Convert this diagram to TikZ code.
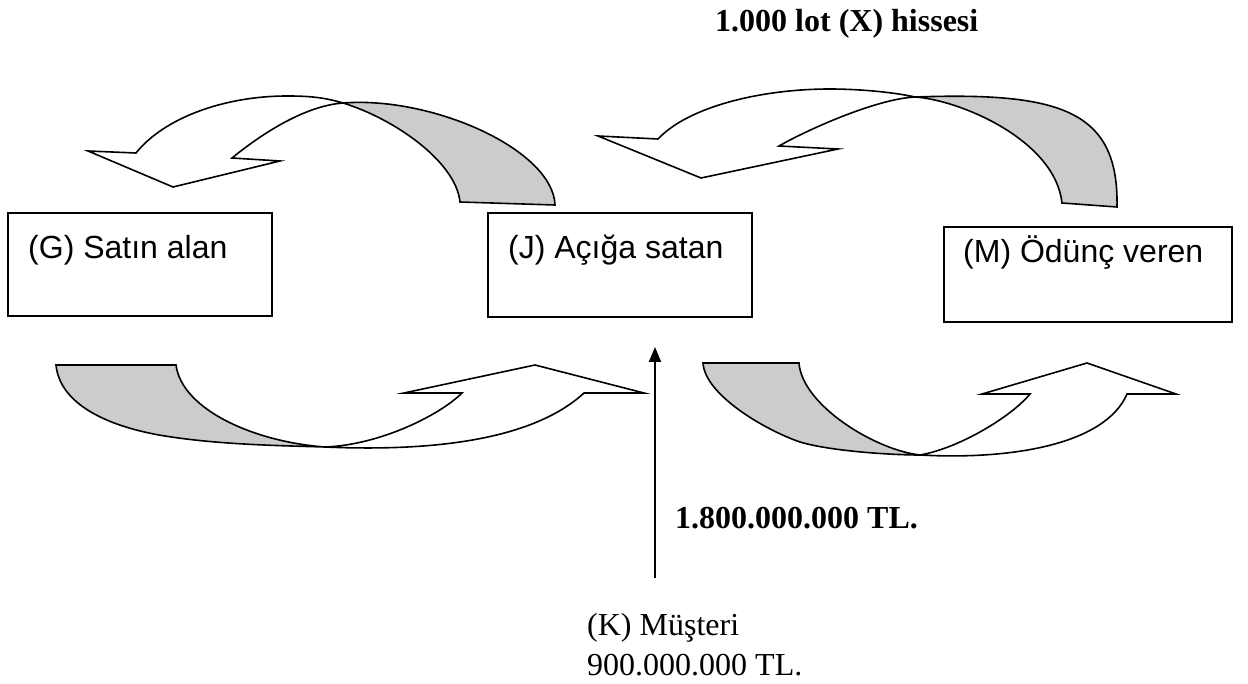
\documentclass[tikz,border=0pt]{standalone}
\usepackage{fontspec}
\setmainfont{Liberation Serif}
\newfontfamily\arialf{Liberation Sans}
\usetikzlibrary{arrows.meta}
\definecolor{bandgrey}{HTML}{CCCCCC}
\begin{document}
\begin{tikzpicture}[x=1pt,y=-1pt,
  boxnode/.style={draw,line width=1.8pt,anchor=north west,inner sep=0pt},
  sanstxt/.style={anchor=base west,inner sep=0pt,font=\arialf\fontsize{32}{38}\selectfont},
  serftxt/.style={anchor=base west,inner sep=0pt,font=\fontsize{32}{38}\selectfont},
  boldtxt/.style={anchor=base west,inner sep=0pt,font=\bfseries\fontsize{32}{38}\selectfont},
  ribbon/.style={draw,line width=1.6pt},
  vertarrow/.style={line width=2pt,-{Triangle[length=15pt,width=12pt]}}]
\useasboundingbox (0,0) rectangle (1248,684);

% boxes
\node[boxnode,minimum width=264pt,minimum height=103pt] (G) at (7,212) {};
\node[boxnode,minimum width=264pt,minimum height=104pt] (J) at (487,212) {};
\node[boxnode,minimum width=288pt,minimum height=95pt] (M) at (943,226) {};
\node[sanstxt] (Gt) at (28,259) {(G) Satın alan};
\node[sanstxt] (Jt) at (508,259) {(J) Açığa satan};
\node[sanstxt] (Mt) at (963,263) {(M) Ödünç veren};

% texts
\node[boldtxt] (lot) at (715,32) {1.000 lot (X) hissesi};
\node[boldtxt] (tl) at (675,528) {1.800.000.000 TL.};
\node[serftxt] (K1) at (587,635) {(K) Müşteri};
\node[serftxt] (K2) at (587,675) {900.000.000 TL.};

% vertical arrow
\coordinate (kbot) at (655,578);
\coordinate (ktop) at (655,347);
\draw[vertarrow] (kbot) -- (ktop);

% ribbon arrows
\def\pTL{(460,202) .. controls (456,162) and (395,119) .. (343,103)
  .. controls (323,97) and (307,96) .. (287,96)
  .. controls (224,96) and (164,118) .. (136,153)
  -- (88,151) -- (173,187) -- (280,161) -- (232,158)
  .. controls (259,136) and (303,106) .. (343,103)
  .. controls (433,96) and (553,150) .. (555,205) -- cycle}
\def\pTR{(1062,203) .. controls (1055,140) and (960,100) .. (915,97)
  .. controls (890,91.5) and (855,89) .. (830,89)
  .. controls (760,89) and (688,107) .. (658,139)
  -- (598,136) -- (701,178) -- (838,149) -- (779,146)
  .. controls (805,131) and (875,99) .. (915,97)
  .. controls (1060,92) and (1119,110) .. (1117,207) -- cycle}
\def\pBL{(56,365) .. controls (60,405) and (109,426) .. (159,435)
  .. controls (214,444.5) and (275,445.5) .. (325,447)
  .. controls (440,452) and (535,438) .. (584,393)
  -- (644,393) -- (535,365) -- (404,393) -- (462,393)
  .. controls (440,415) and (380,445) .. (325,447)
  .. controls (255,442) and (182,410) .. (176,365) -- cycle}
\def\pBR{(703,363) .. controls (705,395) and (765,430) .. (800,442)
  .. controls (830,451) and (890,455) .. (920,455)
  .. controls (1010,460) and (1105,445) .. (1127,394)
  -- (1176,394) -- (1087,363) -- (982,394) -- (1030,394)
  .. controls (1012,416) and (960,448) .. (920,455)
  .. controls (875,450) and (802,405) .. (799,363) -- cycle}

\begin{scope}\clip (343,0) rectangle (1248,684); \fill[bandgrey] \pTL; \end{scope}
\begin{scope}\clip (915,0) rectangle (1248,684); \fill[bandgrey] \pTR; \end{scope}
\begin{scope}\clip (0,0) rectangle (325,684); \fill[bandgrey] \pBL; \end{scope}
\begin{scope}\clip (0,0) rectangle (920,684); \fill[bandgrey] \pBR; \end{scope}
\draw[ribbon] \pTL;
\draw[ribbon] \pTR;
\draw[ribbon] \pBL;
\draw[ribbon] \pBR;
\end{tikzpicture}
\end{document}
